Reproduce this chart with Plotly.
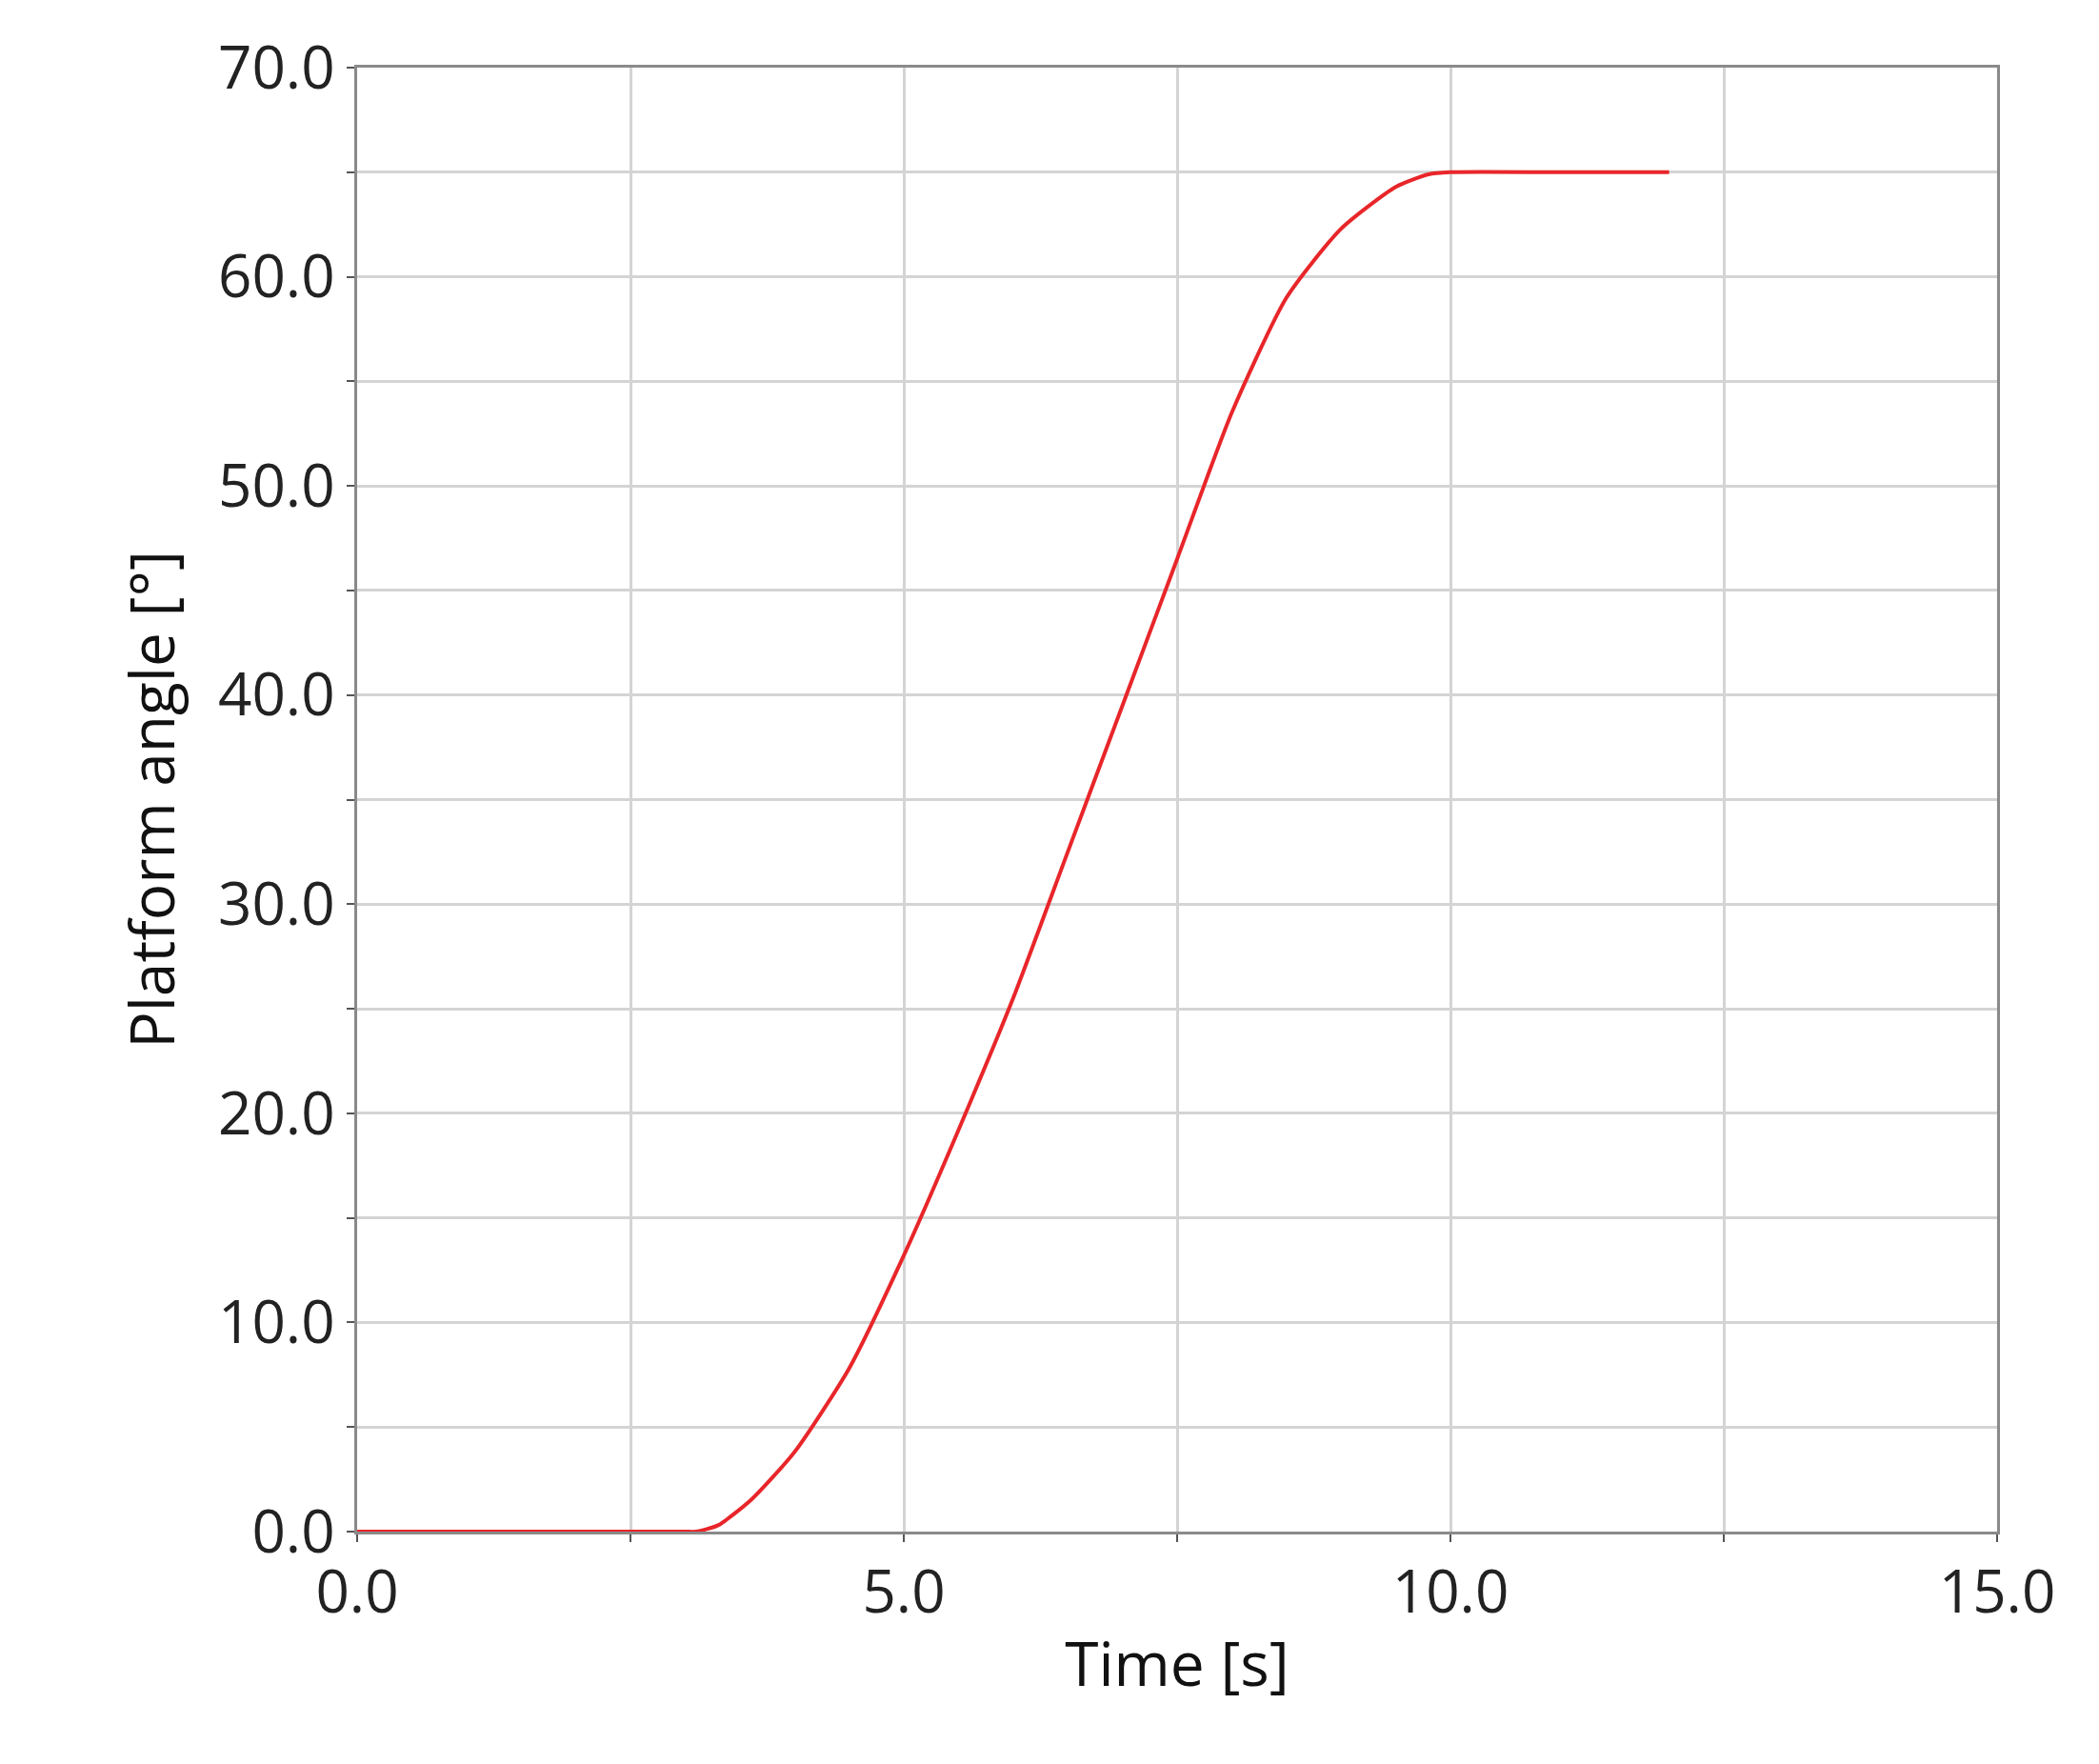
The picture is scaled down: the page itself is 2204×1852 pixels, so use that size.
import plotly.graph_objects as go

time_s = [0, 1, 2, 3, 3.1, 3.3, 3.6, 4.0, 4.5, 5.0, 5.5, 6.0, 6.5, 7.0, 7.5, 8.0, 8.5, 9.0, 9.5, 9.8, 10.0, 11.0, 12.0]
angle = [0, 0, 0, 0, 0, 0.3, 1.5, 3.8, 7.8, 13.2, 19.2, 25.5, 32.5, 39.5, 46.5, 53.5, 59.0, 62.3, 64.3, 64.9, 65.0, 65.0, 65.0]

x_ticks = [0, 2.5, 5, 7.5, 10, 12.5, 15]
x_labels = ["0.0", "", "5.0", "", "10.0", "", "15.0"]
y_ticks = list(range(0, 75, 5))
y_labels = [f"{v:.1f}" if v % 10 == 0 else "" for v in y_ticks]

fig = go.Figure(go.Scatter(x=time_s, y=angle, mode="lines",
                           line=dict(color="#e8262a", width=4, shape="spline", smoothing=0.6)))
axis_common = dict(showline=True, linecolor="#8a8a8a", linewidth=3, mirror=True,
                   gridcolor="#d4d4d4", gridwidth=3, zeroline=False,
                   ticks="outside", ticklen=8, tickcolor="#555", tickwidth=2,
                   tickfont=dict(size=62, color="#222", family="Open Sans"))
fig.update_xaxes(range=[0, 15], tickvals=x_ticks, ticktext=x_labels,
                 title=dict(text="Time [s]", font=dict(size=64, color="#111", family="Open Sans"), standoff=15),
                 **axis_common)
fig.update_yaxes(range=[0, 70], tickvals=y_ticks, ticktext=y_labels,
                 title=dict(text="Platform angle [°]", font=dict(size=64, color="#111", family="Open Sans"), standoff=25),
                 **axis_common)
fig.update_layout(width=2204, height=1852, plot_bgcolor="white", paper_bgcolor="white",
                  margin=dict(l=367, r=115, t=63, b=252), showlegend=False)
fig.write_html("out.html")
